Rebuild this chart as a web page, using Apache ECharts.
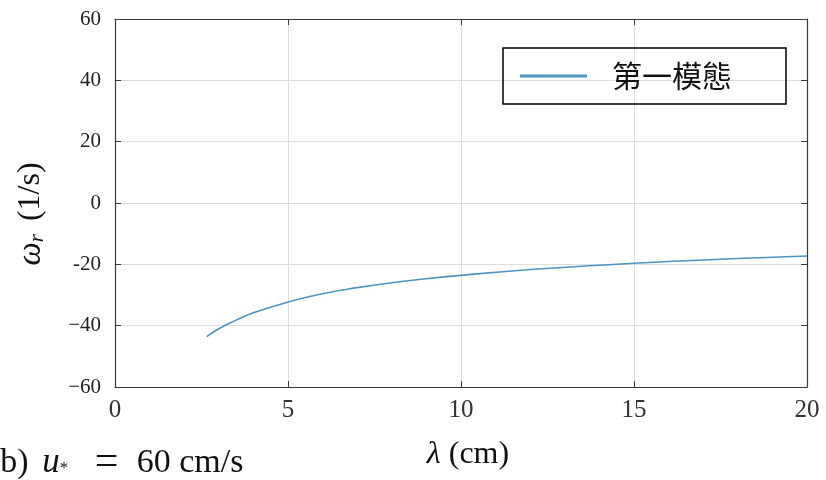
<!DOCTYPE html>
<html>
<head>
<meta charset="utf-8">
<script src="https://cdn.jsdelivr.net/npm/echarts@6/dist/echarts.min.js"></script>
<style>
  html, body { margin: 0; padding: 0; background: #fff; }
  #chart { width: 826px; height: 480px; }
</style>
</head>
<body>
<div id="chart"></div>
<script>
// wavelength lambda (cm) and growth rate omega_r (1/s)
const lambdaCm = [2.65, 3, 3.5, 4, 5, 6, 7, 8, 9, 10, 12, 14, 16, 18, 20]
const omegaR = [-43.6, -41.0, -38.2, -35.8, -32.3, -29.6, -27.6, -26.0, -24.7, -23.6, -21.7, -20.3, -19.1, -18.1, -17.3]
const seriesName = '第一模態'
const yTickLabels = { '60': '60', '40': '40', '20': '20', '0': '0', '-20': '-20', '-40': '\u221240', '-60': '\u221260' }
const xTickLabels = { '0': '0', '5': '5', '10': '10', '15': '15', '20': '20' }

const serif = '"Liberation Serif", "DejaVu Serif", serif'
const axisCol = '#3a3a3a'
const gridCol = '#dedede'

const chart = echarts.init(document.getElementById('chart'))

const baseX = {
  type: 'value',
  min: 0,
  max: 20,
  interval: 5,
  axisLine: { show: true, onZero: false, lineStyle: { color: axisCol, width: 1.2 } },
  axisTick: { show: true, inside: true, length: 6, lineStyle: { color: axisCol } }
}
const baseY = {
  type: 'value',
  min: -60,
  max: 60,
  interval: 20,
  axisLine: { show: true, onZero: false, lineStyle: { color: axisCol, width: 1.2 } },
  axisTick: { show: true, inside: true, length: 6, lineStyle: { color: axisCol } }
}

chart.setOption({
  backgroundColor: '#fff',
  animation: false,
  grid: { left: 115, right: 19, top: 19, bottom: 93 },
  legend: {
    left: 503,
    top: 48,
    padding: [13, 54, 13, 17],
    borderColor: '#000',
    borderWidth: 1.5,
    itemWidth: 67,
    itemHeight: 3,
    itemGap: 10,
    icon: 'rect',
    data: [seriesName],
    textStyle: {
      fontFamily: '"Noto Sans CJK TC", "Noto Sans CJK SC", sans-serif',
      fontSize: 30,
      color: '#111',
      padding: [0, 0, 0, 20]
    }
  },
  xAxis: [
    Object.assign({}, baseX, {
      position: 'bottom',
      splitLine: { show: true, lineStyle: { color: gridCol, width: 1 } },
      axisLabel: {
        margin: 11,
        fontFamily: serif,
        fontSize: 25,
        color: '#333',
        formatter: v => xTickLabels[String(v)]
      }
    }),
    Object.assign({}, baseX, {
      position: 'top',
      splitLine: { show: false },
      axisLabel: { show: false }
    })
  ],
  yAxis: [
    Object.assign({}, baseY, {
      position: 'left',
      splitLine: { show: true, lineStyle: { color: gridCol, width: 1 } },
      axisLabel: {
        margin: 14,
        fontFamily: serif,
        fontSize: 21,
        color: '#222',
        formatter: v => yTickLabels[String(v)]
      }
    }),
    Object.assign({}, baseY, {
      position: 'right',
      splitLine: { show: false },
      axisLabel: { show: false }
    })
  ],
  graphic: [
    {
      type: 'text',
      x: 31,
      y: 214,
      rotation: Math.PI / 2,
      style: {
        text: '{i|ω}{s|r} (1/s)',
        align: 'center',
        verticalAlign: 'middle',
        fontFamily: serif,
        fontSize: 32,
        fill: '#111',
        rich: {
          i: { fontFamily: serif, fontSize: 33, fontStyle: 'italic', fill: '#111' },
          s: { fontFamily: serif, fontSize: 21, fontStyle: 'italic', fill: '#111', padding: [13, 5, 0, 0] }
        }
      }
    },
    {
      type: 'text',
      x: 468,
      y: 455,
      style: {
        text: '{i|λ} (cm)',
        align: 'center',
        verticalAlign: 'middle',
        fontFamily: serif,
        fontSize: 32,
        fill: '#111',
        rich: {
          i: { fontFamily: serif, fontSize: 32, fontStyle: 'italic', fill: '#111' }
        }
      }
    },
    {
      type: 'text',
      x: -11,
      y: 463,
      style: {
        text: '(b) {i|u}{s|*} {e|=}60 cm/s',
        align: 'left',
        verticalAlign: 'middle',
        fontFamily: serif,
        fontSize: 34,
        fill: '#111',
        rich: {
          i: { fontFamily: serif, fontSize: 35, fontStyle: 'italic', fill: '#111', padding: [0, 0, 0, 5] },
          s: { fontFamily: serif, fontSize: 17, fill: '#111', padding: [12, 0, 0, 0] },
          e: { fontFamily: serif, fontSize: 42, fill: '#111', width: 60, align: 'center' }
        }
      }
    }
  ],
  series: [{
    name: seriesName,
    type: 'line',
    xAxisIndex: 0,
    yAxisIndex: 0,
    smooth: true,
    showSymbol: false,
    symbol: 'none',
    color: '#4f94c2',
    lineStyle: { width: 1.6, color: '#4f94c2' },
    data: lambdaCm.map((x, i) => [x, omegaR[i]])
  }]
})
</script>
</body>
</html>
